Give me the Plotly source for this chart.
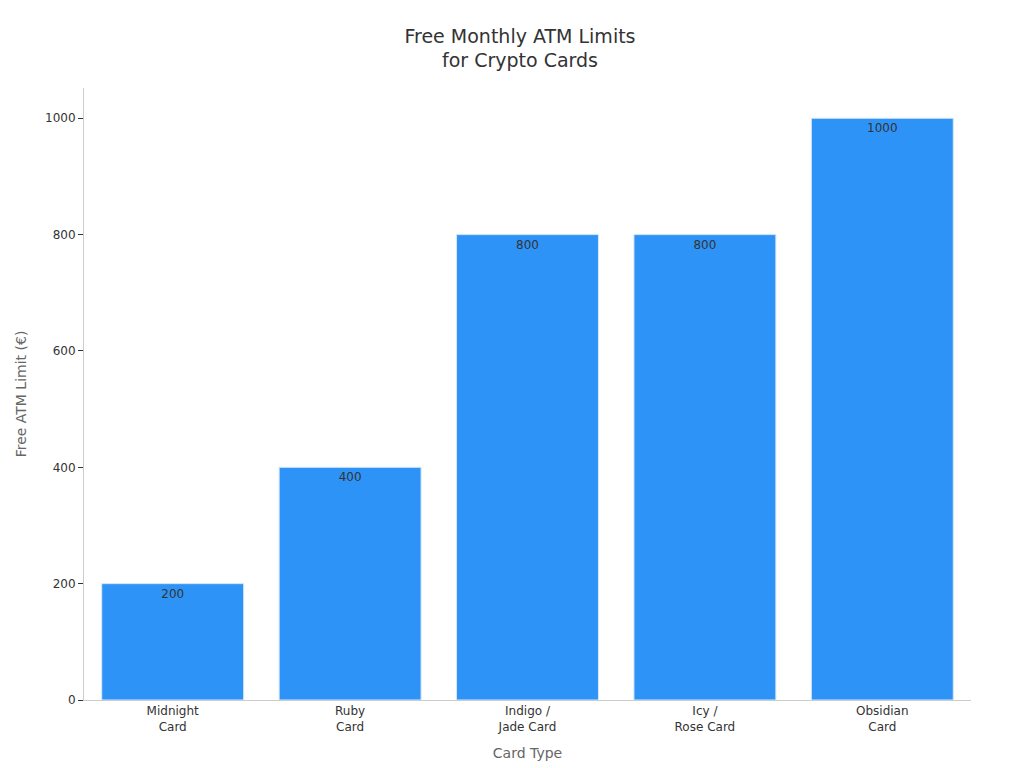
import plotly.graph_objects as go

cards = ["Midnight<br>Card", "Ruby<br>Card", "Indigo /<br>Jade Card", "Icy /<br>Rose Card", "Obsidian<br>Card"]
limits = [200, 400, 800, 800, 1000]

bar_blue = "#2e93f7"
text_dark = "#333333"
axis_grey = "#cccccc"

fig = go.Figure(go.Bar(
    x=cards, y=limits,
    text=[str(v) for v in limits],
    textposition="inside", insidetextanchor="end",
    textfont=dict(size=12, color=text_dark),
    marker=dict(color=bar_blue, line=dict(color="#d6e6f7", width=1)),
    showlegend=False,
))

fig.update_layout(
    width=1024, height=768,
    font=dict(family="DejaVu Sans", color=text_dark),
    paper_bgcolor="white", plot_bgcolor="white",
    title=dict(text="Free Monthly ATM Limits<br>for Crypto Cards", x=0.5, xanchor="center",
               y=0.955, font=dict(size=19, color=text_dark)),
    margin=dict(t=80, b=76, l=76, r=61),
    bargap=0.2,
)
fig.update_xaxes(title=dict(text="Card Type", font=dict(size=14, color="#666666")),
                 showline=True, linecolor=axis_grey, tickfont=dict(size=12))
fig.update_yaxes(title=dict(text="Free ATM Limit (€)", font=dict(size=14, color="#666666")),
                 range=[0, 1052], dtick=200, showgrid=False, zeroline=False,
                 showline=True, linecolor=axis_grey, ticks="outside", tickcolor=text_dark,
                 ticklen=5, tickfont=dict(size=12))

fig.write_html("out.html")
